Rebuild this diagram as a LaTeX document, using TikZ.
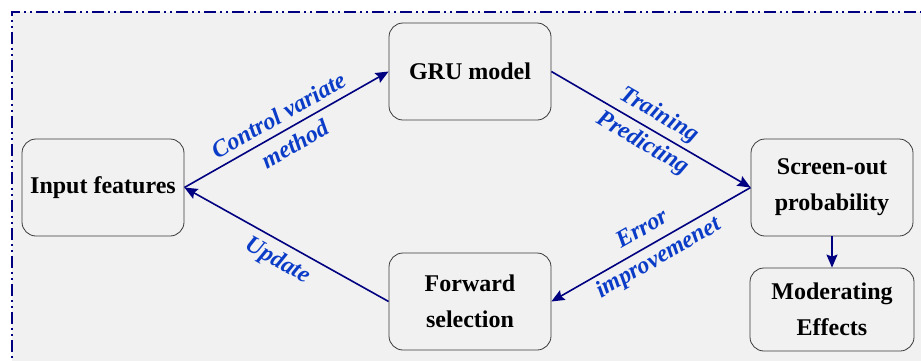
\documentclass[tikz,border=0pt]{standalone}
\usepackage{fontspec}
\setmainfont{Liberation Serif}
\usetikzlibrary{arrows.meta}
\definecolor{bgray}{HTML}{F1F1F1}
\definecolor{navyline}{HTML}{000080}
\definecolor{lblue}{HTML}{0A3CC8}
\definecolor{boxedge}{HTML}{3A3A3A}
\begin{document}
\begin{tikzpicture}[x=1pt,y=-1pt,
  box/.style={draw=boxedge, line width=0.8pt, rounded corners=14pt, fill=bgray,
    minimum width=162pt, minimum height=97pt, align=center, inner sep=0pt,
    font=\fontsize{24}{36}\selectfont\bfseries},
  conn/.style={draw=navyline, line width=1.6pt, -{Stealth[length=13pt,width=11pt,inset=2pt]}},
  lbl/.style={text=lblue, font=\fontsize{24}{33}\selectfont\bfseries\itshape, align=center, sloped, midway}]
\useasboundingbox (0,0) rectangle (921,360);
\fill[white] (0,0) rectangle (921,360);
\begin{scope}
  \clip (0,0) rectangle (921,360);
  \fill[bgray] (12,12) rectangle (940,380);
  \draw[navyline, line width=1.6pt, dash pattern=on 12pt off 4pt on 2pt off 4pt on 2pt off 4pt] (12,380) -- (12,12) -- (940,12);
\end{scope}
\node[box] (in)  at (103,187.5) {Input features};
\node[box] (gru) at (470,71.5) {GRU model};
\node[box] (scr) at (832,187.5) {Screen-out\\probability};
\node[box] (fwd) at (470,301.5) {Forward\\selection};
\node[box, minimum width=164pt, minimum height=83pt] (mod) at (832,309.5) {Moderating\\Effects};
\draw[conn] (in.east) -- node[lbl] {Control variate\\method} (gru.west);
\draw[conn] (gru.east) -- node[lbl] {Training\\Predicting} (scr.west);
\draw[conn] (scr.west) -- node[lbl] {Error\\improvemenet} (fwd.east);
\draw[conn] (fwd.west) -- node[lbl, below=4pt] {Update} (in.east);
\draw[conn] (scr.south) -- (mod.north);
\end{tikzpicture}
\end{document}
